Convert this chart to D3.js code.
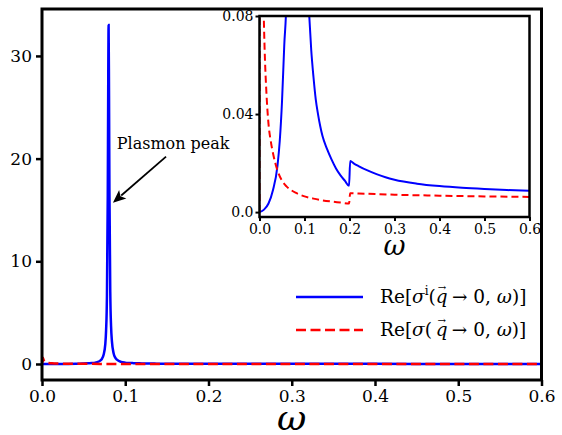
<!DOCTYPE html>
<html>
<head>
<meta charset="utf-8">
<script src="https://cdn.jsdelivr.net/npm/d3@7"></script>
<style>
  html, body { margin: 0; padding: 0; background: #fff; }
</style>
</head>
<body>
<div id="chart"></div>
<script>
// values
const omegaI = [0, 0.01, 0.02, 0.03, 0.04, 0.045, 0.05, 0.055, 0.06, 0.065, 0.07, 0.072, 0.074, 0.076, 0.077,
  0.078, 0.079, 0.0795, 0.08, 0.0805, 0.081, 0.082, 0.083, 0.084, 0.086, 0.088, 0.09, 0.095, 0.1, 0.105,
  0.11, 0.115, 0.12, 0.125, 0.13, 0.135, 0.14, 0.15, 0.16, 0.17, 0.18, 0.19, 0.199, 0.2015, 0.21, 0.22, 0.24, 0.26,
  0.28, 0.3, 0.35, 0.4, 0.45, 0.5, 0.55, 0.6]
const sigmaI = [0, 0.001, 0.0035, 0.009, 0.019, 0.029, 0.045, 0.068, 0.088, 0.16, 0.33, 0.5, 0.9, 1.9, 3.3,
  6.6, 16.5, 26.4, 33, 26.5, 17, 7, 3.6, 2.2, 1.05, 0.62, 0.42, 0.2, 0.13, 0.1,
  0.082, 0.066, 0.055, 0.046, 0.04, 0.035, 0.031, 0.0258, 0.0215, 0.0178, 0.015, 0.0127, 0.0107, 0.0208, 0.0198, 0.0188, 0.017, 0.0155,
  0.0142, 0.0132, 0.0116, 0.0106, 0.0099, 0.0094, 0.009, 0.0087]

const omegaR = [0, 0.001, 0.002, 0.004, 0.006, 0.008, 0.01, 0.012, 0.015, 0.02, 0.025, 0.03, 0.04, 0.05,
  0.06, 0.07, 0.08, 0.1, 0.12, 0.14, 0.16, 0.18, 0.199, 0.2015, 0.22, 0.3, 0.4, 0.5, 0.6]
const sigmaR = [0, 0.6, 0.38, 0.19, 0.125, 0.095, 0.076, 0.063, 0.05, 0.036, 0.029, 0.024, 0.017, 0.0128,
  0.0105, 0.009, 0.0079, 0.0064, 0.0055, 0.0048, 0.0043, 0.0039, 0.0035, 0.0077, 0.0076, 0.0071, 0.0067, 0.0064, 0.0062]

const mainXTicks = [0, 0.1, 0.2, 0.3, 0.4, 0.5, 0.6]
const mainYTicks = [0, 10, 20, 30]
const insetXTicks = [0, 0.1, 0.2, 0.3, 0.4, 0.5, 0.6]
const insetYTicks = [0, 0.04, 0.08]
const insetYLabels = ['0.0', '0.04', '0.08']

const width = 562
const height = 435
const serif = '"DejaVu Serif", serif'

const svg = d3.select('#chart').append('svg')
  .attr('width', width)
  .attr('height', height)
  .attr('font-family', serif)

const blue = '#0000ff'
const red = '#ff0000'

// main axes
const x = d3.scaleLinear().domain([0, 0.6]).range([42, 541.5])
const y = d3.scaleLinear().domain([-1.56, 34.57]).range([380, 9])

svg.append('clipPath').attr('id', 'clip-main')
  .append('rect')
  .attr('x', x.range()[0]).attr('y', y.range()[1])
  .attr('width', x.range()[1] - x.range()[0])
  .attr('height', y.range()[0] - y.range()[1])

const lineI = d3.line().x((d, i) => x(omegaI[i])).y(d => y(d)).curve(d3.curveMonotoneX)
const lineR = d3.line().x((d, i) => x(omegaR[i])).y(d => y(d)).curve(d3.curveMonotoneX)

const plot = svg.append('g').attr('clip-path', 'url(#clip-main)')
plot.append('path').attr('d', lineI(sigmaI))
  .attr('fill', 'none').attr('stroke', blue).attr('stroke-width', 2.5)
plot.append('path').attr('d', lineR(sigmaR))
  .attr('fill', 'none').attr('stroke', red).attr('stroke-width', 2.5)
  .attr('stroke-dasharray', '10,4.5')

// frame
svg.append('rect')
  .attr('x', x.range()[0]).attr('y', y.range()[1])
  .attr('width', x.range()[1] - x.range()[0])
  .attr('height', y.range()[0] - y.range()[1])
  .attr('fill', 'none').attr('stroke', '#000').attr('stroke-width', 3)

const xAxis = svg.append('g')
  .attr('transform', `translate(0,${y.range()[0]})`)
  .call(d3.axisBottom(x).tickValues(mainXTicks).tickFormat(d3.format('.1f')).tickSize(6).tickPadding(4))
const yAxis = svg.append('g')
  .attr('transform', `translate(${x.range()[0]},0)`)
  .call(d3.axisLeft(y).tickValues(mainYTicks).tickFormat(d3.format('d')).tickSize(6).tickPadding(4))

;[xAxis, yAxis].forEach(a => {
  a.attr('font-family', serif).attr('font-size', 17)
  a.select('.domain').remove()
  a.selectAll('.tick line').attr('stroke', '#000').attr('stroke-width', 2.5)
  a.selectAll('.tick text').attr('fill', '#000')
})

svg.append('text')
  .attr('x', (x.range()[0] + x.range()[1]) / 2)
  .attr('y', 430)
  .attr('text-anchor', 'middle')
  .attr('font-size', 36).attr('font-style', 'italic')
  .text('ω')

// annotation
const annoText = { w: 0.0898, v: 20.9 }
const arrowTail = { w: 0.149, v: 20.2 }
const arrowTip = { w: 0.0852, v: 15.7 }

svg.append('text')
  .attr('x', x(annoText.w)).attr('y', y(annoText.v))
  .attr('font-size', 16)
  .text('Plasmon peak')

const tx = x(arrowTail.w), ty = y(arrowTail.v)
const hx = x(arrowTip.w), hy = y(arrowTip.v)
const len = Math.hypot(hx - tx, hy - ty)
const ux = (hx - tx) / len, uy = (hy - ty) / len
const headL = 13, headW = 5.5
const bx = hx - ux * headL, by = hy - uy * headL
svg.append('line')
  .attr('x1', tx).attr('y1', ty).attr('x2', bx + ux * 2).attr('y2', by + uy * 2)
  .attr('stroke', '#000').attr('stroke-width', 1.8)
svg.append('polygon')
  .attr('points', [[hx, hy], [bx - uy * headW, by + ux * headW], [bx + ux * 3, by + uy * 3], [bx + uy * headW, by - ux * headW]].map(p => p.join(',')).join(' '))
  .attr('fill', '#000')

// legend
const legend = svg.append('g')
const legendRows = [
  { y: 297, color: blue, dash: null, sup: 'i' },
  { y: 330, color: red, dash: '10,4.5', sup: null }
]
legendRows.forEach(r => {
  legend.append('line')
    .attr('x1', 296).attr('x2', 363).attr('y1', r.y).attr('y2', r.y)
    .attr('stroke', r.color).attr('stroke-width', 2.7)
    .attr('stroke-dasharray', r.dash)
  const t = legend.append('text')
    .attr('x', 380).attr('y', r.y + 6)
    .attr('font-size', 18.5)
  t.append('tspan').text('Re[')
  t.append('tspan').attr('font-style', 'italic').text('σ')
  if (r.sup) {
    t.append('tspan').attr('dy', -8).attr('font-size', 12).text(r.sup)
    t.append('tspan').attr('dy', 8).text('(')
  } else {
    t.append('tspan').text('(\u2009')
  }
  t.append('tspan').attr('font-style', 'italic').text('q')
  // vector arrow over q
  t.append('tspan').attr('dx', -10).attr('dy', -12).attr('font-size', 10).text('→')
  t.append('tspan').attr('dx', 0).attr('dy', 12).text(' → 0, ')
  t.append('tspan').attr('font-style', 'italic').text('ω')
  t.append('tspan').text(')]')
})

// inset
const xi = d3.scaleLinear().domain([0, 0.6]).range([259.5, 529.5])
const yi = d3.scaleLinear().domain([-0.002, 0.08]).range([217, 16])

svg.append('rect')
  .attr('x', xi.range()[0]).attr('y', yi.range()[1])
  .attr('width', xi.range()[1] - xi.range()[0])
  .attr('height', yi.range()[0] - yi.range()[1])
  .attr('fill', '#fff')

svg.append('clipPath').attr('id', 'clip-inset')
  .append('rect')
  .attr('x', xi.range()[0]).attr('y', yi.range()[1])
  .attr('width', xi.range()[1] - xi.range()[0])
  .attr('height', yi.range()[0] - yi.range()[1])

const insetLineI = d3.line().x((d, i) => xi(omegaI[i])).y(d => yi(d)).curve(d3.curveMonotoneX)
const insetLineR = d3.line().x((d, i) => xi(omegaR[i])).y(d => yi(d)).curve(d3.curveMonotoneX)

const inset = svg.append('g').attr('clip-path', 'url(#clip-inset)')
inset.append('path').attr('d', insetLineI(sigmaI))
  .attr('fill', 'none').attr('stroke', blue).attr('stroke-width', 2)
inset.append('path').attr('d', insetLineR(sigmaR))
  .attr('fill', 'none').attr('stroke', red).attr('stroke-width', 2)
  .attr('stroke-dasharray', '7,4')

svg.append('rect')
  .attr('x', xi.range()[0]).attr('y', yi.range()[1])
  .attr('width', xi.range()[1] - xi.range()[0])
  .attr('height', yi.range()[0] - yi.range()[1])
  .attr('fill', 'none').attr('stroke', '#000').attr('stroke-width', 2.5)

const xiAxis = svg.append('g')
  .attr('transform', `translate(0,${yi.range()[0]})`)
  .call(d3.axisBottom(xi).tickValues(insetXTicks).tickFormat(d3.format('.1f')).tickSize(4).tickPadding(3))
const yiAxis = svg.append('g')
  .attr('transform', `translate(${xi.range()[0]},0)`)
  .call(d3.axisLeft(yi).tickValues(insetYTicks).tickFormat((d, i) => insetYLabels[i]).tickSize(4).tickPadding(2))

;[xiAxis, yiAxis].forEach(a => {
  a.attr('font-family', serif).attr('font-size', 14)
  a.select('.domain').remove()
  a.selectAll('.tick line').attr('stroke', '#000').attr('stroke-width', 2)
  a.selectAll('.tick text').attr('fill', '#000')
})

svg.append('text')
  .attr('x', (xi.range()[0] + xi.range()[1]) / 2)
  .attr('y', 255)
  .attr('text-anchor', 'middle')
  .attr('font-size', 27).attr('font-style', 'italic')
  .text('ω')
</script>
</body>
</html>
